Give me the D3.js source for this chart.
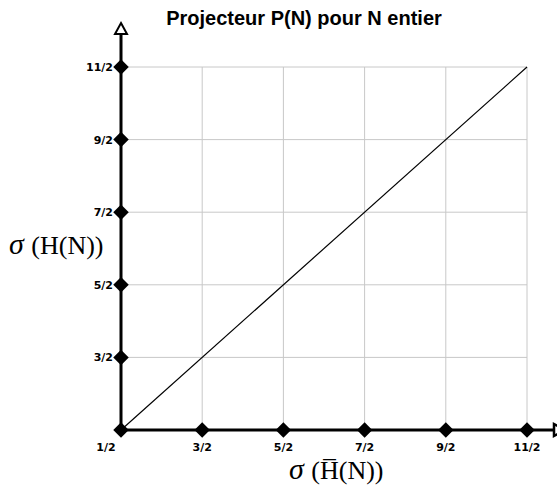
<!DOCTYPE html>
<html>
<head>
<meta charset="utf-8">
<script src="https://cdn.jsdelivr.net/npm/d3@7"></script>
<style>
  body { margin: 0; background: #fff; }
  .grid line { stroke: #c8c8c8; stroke-width: 1; }
  .tick-label { font-family: "DejaVu Sans", sans-serif; font-weight: bold; font-size: 11px; fill: #000; }
</style>
</head>
<body>
<svg id="chart" width="557" height="486"></svg>
<script>
const tickValues = [0.5, 1.5, 2.5, 3.5, 4.5, 5.5];
const tickLabels = ["1/2", "3/2", "5/2", "7/2", "9/2", "11/2"];
const diagonal = [{x: 0.5, y: 0.5}, {x: 5.5, y: 5.5}];

const svg = d3.select("#chart");
const x = d3.scaleLinear().domain([0.5, 5.5]).range([121, 527]);
const y = d3.scaleLinear().domain([0.5, 5.5]).range([430, 67]);

// grid
const grid = svg.append("g").attr("class", "grid");
grid.selectAll("line.v")
    .data(tickValues.slice(1))
    .enter().append("line")
    .attr("x1", (d) => x(d)).attr("x2", (d) => x(d))
    .attr("y1", y(5.5)).attr("y2", y(0.5));
grid.selectAll("line.h")
    .data(tickValues.slice(1))
    .enter().append("line")
    .attr("y1", (d) => y(d)).attr("y2", (d) => y(d))
    .attr("x1", x(0.5)).attr("x2", x(5.5));

// diagonal
const line = d3.line().x((d) => x(d.x)).y((d) => y(d.y));
svg.append("path")
    .datum(diagonal)
    .attr("d", line)
    .attr("fill", "none")
    .attr("stroke", "#000")
    .attr("stroke-width", 1.2);

// axes
svg.append("line")
    .attr("x1", x(0.5)).attr("x2", x(0.5))
    .attr("y1", y(0.5)).attr("y2", 35)
    .attr("stroke", "#000").attr("stroke-width", 3);
svg.append("line")
    .attr("x1", x(0.5)).attr("x2", 553)
    .attr("y1", y(0.5)).attr("y2", y(0.5))
    .attr("stroke", "#000").attr("stroke-width", 3);

// arrow heads (open)
svg.append("path")
    .attr("d", `M${x(0.5)},23 L${x(0.5) + 6},34 L${x(0.5) - 6},34 Z`)
    .attr("fill", "#fff").attr("stroke", "#000").attr("stroke-width", 2);
svg.append("path")
    .attr("d", `M${565},${y(0.5)} L${554},${y(0.5) + 6} L${554},${y(0.5) - 6} Z`)
    .attr("fill", "#fff").attr("stroke", "#000").attr("stroke-width", 2.5);

// diamonds
const diamond = d3.symbol().type(d3.symbolSquare).size(120);
svg.selectAll("path.dx")
    .data(tickValues)
    .enter().append("path")
    .attr("d", diamond)
    .attr("transform", (d) => `translate(${x(d)},${y(0.5)}) rotate(45)`);
svg.selectAll("path.dy")
    .data(tickValues.slice(1))
    .enter().append("path")
    .attr("d", diamond)
    .attr("transform", (d) => `translate(${x(0.5)},${y(d)}) rotate(45)`);

// tick labels
svg.selectAll("text.xl")
    .data(tickValues)
    .enter().append("text")
    .attr("class", "tick-label")
    .attr("x", (d, i) => i === 0 ? x(d) - 15 : x(d))
    .attr("y", 451)
    .attr("text-anchor", "middle")
    .text((d, i) => tickLabels[i]);
svg.selectAll("text.yl")
    .data(tickValues.slice(1))
    .enter().append("text")
    .attr("class", "tick-label")
    .attr("x", x(0.5) - 8)
    .attr("y", (d) => y(d) + 4)
    .attr("text-anchor", "end")
    .text((d, i) => tickLabels[i + 1]);

// title
svg.append("text")
    .attr("x", 304).attr("y", 25)
    .attr("text-anchor", "middle")
    .style("font-family", "Liberation Sans, Arial, sans-serif")
    .style("font-weight", "bold")
    .style("font-size", "20px")
    .text("Projecteur P(N) pour N entier");

// axis titles
const serif = "Liberation Serif, Times New Roman, serif";
const yTitle = svg.append("text")
    .attr("x", 9).attr("y", 254)
    .style("font-family", serif)
    .style("font-size", "26px");
yTitle.append("tspan").style("font-style", "italic").style("font-size", "30px").text("σ ");
yTitle.append("tspan").text("(H(N))");

const xTitle = svg.append("text")
    .attr("x", 289).attr("y", 479)
    .style("font-family", serif)
    .style("font-size", "26px");
xTitle.append("tspan").style("font-style", "italic").style("font-size", "30px").text("σ ");
xTitle.append("tspan").text("(H\u0305(N))");
</script>
</body>
</html>
